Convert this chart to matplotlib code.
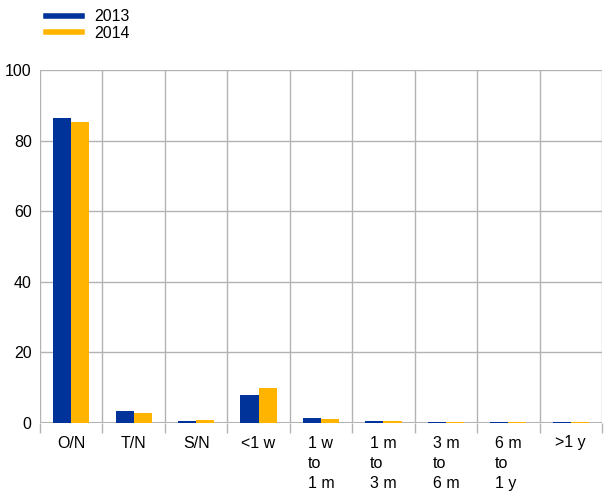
import numpy as np
import matplotlib
matplotlib.use("Agg")
import matplotlib.pyplot as plt
from matplotlib.lines import Line2D

# ============================================================
# Data
# ============================================================
categories = ["O/N", "T/N", "S/N", "<1 w", "1 w\nto\n1 m", "1 m\nto\n3 m",
              "3 m\nto\n6 m", "6 m\nto\n1 y", ">1 y"]
vals_2013 = [86.3, 3.4, 0.6, 7.9, 1.4, 0.6, 0.3, 0.3, 0.3]
vals_2014 = [85.2, 2.8, 0.9, 9.9, 1.0, 0.5, 0.3, 0.3, 0.3]
series_names = ["2013", "2014"]
yticks = [0, 20, 40, 60, 80, 100]

BLUE = "#003399"
ORANGE = "#ffb400"
GRID = "#b3b3b3"

plt.rcParams["font.family"] = ["Liberation Sans", "DejaVu Sans"]

fig = plt.figure(figsize=(6.04, 4.92), dpi=100)
ax = fig.add_axes([40 / 604, 1 - 423 / 492, 562 / 604, (423 - 70) / 492])

x = np.arange(len(categories))
w = 0.29
ax.bar(x - w / 2, vals_2013, w, color=BLUE, zorder=3)
ax.bar(x + w / 2, vals_2014, w, color=ORANGE, zorder=3)

ax.set_xlim(-0.5, len(categories) - 0.5)
ax.set_ylim(0, 100)
ax.set_yticks(yticks)
ax.set_yticklabels([str(t) for t in yticks], fontsize=11.5)

# category labels at centres, boundaries as gridlines
ax.set_xticks(x)
ax.set_xticklabels(categories, fontsize=11.5, multialignment="left",
                   va="top", linespacing=1.45)
ax.tick_params(axis="x", length=0, pad=9)
ax.tick_params(axis="y", length=0, pad=6)
ax.set_xticks(np.arange(-0.5, len(categories), 1.0), minor=True)
ax.tick_params(axis="x", which="minor", length=7, color=GRID, width=1)

ax.grid(axis="y", color=GRID, linewidth=1, zorder=0)
ax.grid(axis="x", which="minor", color=GRID, linewidth=1, zorder=0)
for s in ax.spines.values():
    s.set_visible(False)
ax.axhline(0, color=GRID, linewidth=1.5, zorder=2)

handles = [Line2D([], [], color=BLUE, lw=4), Line2D([], [], color=ORANGE, lw=4)]
fig.legend(handles, series_names, loc="upper left",
           bbox_to_anchor=(40 / 604, 1 - 3 / 492), frameon=False,
           fontsize=11.5, handlelength=2.2, labelspacing=0.1,
           handletextpad=0.8, borderaxespad=0)

fig.savefig("out.png", dpi=100)
